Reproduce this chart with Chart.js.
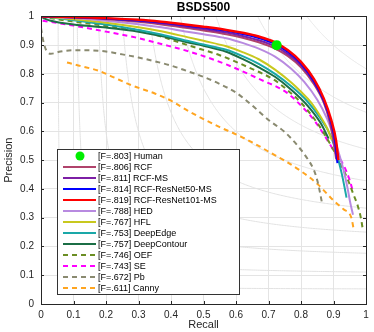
<!DOCTYPE html>
<html><head><meta charset="utf-8">
<script src="https://cdn.jsdelivr.net/npm/chart.js@4.4.1/dist/chart.umd.min.js"></script>
<style>html,body{margin:0;padding:0;background:#fff;}#wrap{width:374px;height:332px;}</style>
</head><body><div id="wrap"><canvas id="c" width="374" height="332"></canvas></div>
<script>
const FONT = "'Liberation Sans', Arial, Helvetica, sans-serif";
const methods = ['Human','RCF','RCF-MS','RCF-ResNet50-MS','RCF-ResNet101-MS','HED','HFL','DeepEdge','DeepContour','OEF','SE','Pb','Canny'];
const fScores = ['.803','.806','.811','.814','.819','.788','.767','.753','.757','.746','.743','.672','.611'];
const tickValues = [0,0.1,0.2,0.3,0.4,0.5,0.6,0.7,0.8,0.9,1];
const isoF = [0.1,0.2,0.3,0.4,0.5,0.6,0.7,0.8,0.9];

// [recall, precision]
const human = [[0.725,0.90]];
const rcf = [[0,1],[0.1,0.996],[0.2,0.99],[0.3,0.981],[0.37,0.972],[0.45,0.96],[0.5,0.951],[0.57,0.938],[0.62,0.926],[0.67,0.91],[0.72,0.888],[0.76,0.862],[0.8,0.823],[0.84,0.764],[0.87,0.7],[0.888,0.635],[0.9,0.565],[0.908,0.505]];
const rcfMS = [[0,1],[0.1,0.997],[0.2,0.992],[0.3,0.984],[0.37,0.976],[0.45,0.964],[0.5,0.956],[0.57,0.944],[0.62,0.932],[0.67,0.917],[0.72,0.896],[0.76,0.869],[0.8,0.83],[0.84,0.77],[0.87,0.705],[0.89,0.635],[0.903,0.565],[0.91,0.5]];
const rcfRes50 = [[0,1],[0.1,0.997],[0.2,0.993],[0.3,0.986],[0.37,0.979],[0.45,0.968],[0.5,0.961],[0.57,0.95],[0.62,0.939],[0.67,0.925],[0.72,0.904],[0.76,0.876],[0.8,0.836],[0.84,0.775],[0.87,0.708],[0.893,0.632],[0.906,0.56],[0.912,0.49]];
const rcfRes101 = [[0,1],[0.1,0.998],[0.2,0.994],[0.3,0.988],[0.37,0.981],[0.45,0.971],[0.5,0.964],[0.57,0.953],[0.62,0.943],[0.67,0.93],[0.72,0.91],[0.76,0.882],[0.8,0.842],[0.84,0.782],[0.87,0.715],[0.893,0.64],[0.908,0.567],[0.915,0.5]];
const hed = [[0,1],[0.1,0.994],[0.2,0.985],[0.3,0.973],[0.37,0.962],[0.45,0.947],[0.5,0.938],[0.57,0.924],[0.62,0.908],[0.67,0.888],[0.72,0.86],[0.77,0.818],[0.81,0.772],[0.85,0.71],[0.88,0.645],[0.9,0.585],[0.915,0.53],[0.93,0.47],[0.942,0.41],[0.952,0.35],[0.96,0.31]];
const hfl = [[0,1],[0.1,0.99],[0.2,0.978],[0.3,0.962],[0.37,0.948],[0.45,0.928],[0.5,0.915],[0.57,0.896],[0.62,0.876],[0.67,0.851],[0.72,0.815],[0.77,0.77],[0.8,0.738],[0.83,0.702],[0.86,0.652],[0.88,0.612],[0.895,0.57]];
const deepEdge = [[0,1],[0.1,0.987],[0.2,0.972],[0.3,0.953],[0.37,0.937],[0.45,0.915],[0.5,0.902],[0.57,0.884],[0.62,0.862],[0.67,0.835],[0.72,0.8],[0.77,0.757],[0.82,0.704],[0.86,0.645],[0.89,0.588],[0.91,0.522],[0.925,0.455],[0.935,0.4],[0.94,0.37]];
const deepContour = [[0.005,0.995],[0.03,0.985],[0.1,0.972],[0.2,0.961],[0.3,0.947],[0.37,0.932],[0.45,0.91],[0.5,0.898],[0.57,0.877],[0.62,0.852],[0.67,0.823],[0.72,0.79],[0.77,0.745],[0.82,0.69],[0.86,0.63],[0.885,0.575]];
const oef = [[0,1],[0.05,0.99],[0.1,0.982],[0.2,0.967],[0.3,0.952],[0.37,0.93],[0.46,0.897],[0.55,0.865],[0.64,0.822],[0.715,0.781],[0.756,0.746],[0.8,0.7],[0.84,0.645],[0.87,0.595],[0.9,0.535],[0.925,0.48],[0.945,0.43],[0.96,0.385],[0.975,0.34],[0.985,0.295],[0.99,0.26]];
const se = [[0.005,0.985],[0.1,0.968],[0.2,0.947],[0.29,0.927],[0.37,0.904],[0.47,0.873],[0.57,0.833],[0.67,0.783],[0.756,0.735],[0.8,0.69],[0.84,0.64],[0.87,0.59],[0.9,0.535],[0.93,0.485],[0.95,0.43],[0.96,0.39]];
const pb = [[0,0.96],[0.005,0.925],[0.015,0.885],[0.03,0.87],[0.06,0.878],[0.1,0.882],[0.15,0.882],[0.2,0.878],[0.25,0.868],[0.3,0.857],[0.35,0.844],[0.4,0.829],[0.45,0.81],[0.5,0.79],[0.55,0.765],[0.6,0.735],[0.65,0.69],[0.7,0.64],[0.75,0.598],[0.79,0.55],[0.82,0.505],[0.84,0.465],[0.85,0.43],[0.858,0.39],[0.864,0.355]];
const canny = [[0.08,0.84],[0.12,0.828],[0.18,0.81],[0.22,0.79],[0.28,0.76],[0.35,0.732],[0.4,0.707],[0.45,0.673],[0.5,0.643],[0.55,0.615],[0.6,0.59],[0.65,0.562],[0.7,0.53],[0.75,0.498],[0.8,0.462],[0.85,0.418],[0.9,0.36],[0.93,0.33],[0.955,0.3],[0.962,0.26]];

const series = [human,rcf,rcfMS,rcfRes50,rcfRes101,hed,hfl,deepEdge,deepContour,oef,se,pb,canny];
const colors = ['#00ee00','#b0436b','#7d1fa5','#0000ff','#ff0000','#b88ae0','#c8c81e','#1aa8a8','#1b6e45','#6b8e23','#ff00ff','#8a8a70','#ffa520'];
const dashed = [false,false,false,false,false,false,false,false,false,true,true,true,true];
// drawing order (lower = drawn later, on top)
const drawOrder = [0,4,3,2,1,5,6,7,8,9,10,11,12];

const datasets = series.map((s,i)=>{
  const d = {
    label: '[F=' + fScores[i] + '] ' + methods[i],
    data: s.map(p=>({x:p[0],y:p[1]})),
    borderColor: colors[i],
    backgroundColor: colors[i],
    borderWidth: i===4 ? 2.5 : 2,
    borderDash: dashed[i] ? [5,4] : [],
    pointRadius: 0,
    showLine: true,
    cubicInterpolationMode: 'monotone',
    fill: false,
    order: drawOrder[i]
  };
  if (i===0) { d.showLine=false; d.pointRadius=5; d.borderWidth=0; d.pointBorderWidth=0; }
  return d;
});

const fmt = v => (Math.abs(v-Math.round(v))<1e-9) ? String(Math.round(v)) : v.toFixed(1);

const deco = {
  id:'deco',
  beforeDatasetsDraw(chart){
    const {ctx, chartArea:a, scales:{x,y}} = chart;
    ctx.save();
    ctx.beginPath(); ctx.rect(a.left,a.top,a.right-a.left,a.bottom-a.top); ctx.clip();
    ctx.strokeStyle='#e2e2e2'; ctx.lineWidth=1;
    isoF.forEach(f=>{
      ctx.beginPath();
      const N=120;
      for(let k=0;k<=N;k++){
        const p = 1-(1-f)*k/N, r = f*p/(2*p-f);
        const px=x.getPixelForValue(r), py=y.getPixelForValue(p);
        k?ctx.lineTo(px,py):ctx.moveTo(px,py);
      }
      for(let k=1;k<=N;k++){
        const r = f+(1-f)*k/N, p = f*r/(2*r-f);
        ctx.lineTo(x.getPixelForValue(r), y.getPixelForValue(p));
      }
      ctx.stroke();
    });
    ctx.restore();
  },
  afterDraw(chart){
    const {ctx, chartArea:a, scales:{x,y}} = chart;
    ctx.save();
    ctx.strokeStyle='#262626'; ctx.lineWidth=1;
    ctx.strokeRect(Math.round(a.left)+0.5, Math.round(a.top)+0.5, Math.round(a.right-a.left), Math.round(a.bottom-a.top));
    ctx.beginPath();
    tickValues.forEach(v=>{
      const px=Math.round(x.getPixelForValue(v))+0.5;
      ctx.moveTo(px,a.bottom); ctx.lineTo(px,a.bottom-3);
      ctx.moveTo(px,a.top); ctx.lineTo(px,a.top+3);
      const py=Math.round(y.getPixelForValue(v))+0.5;
      ctx.moveTo(a.left,py); ctx.lineTo(a.left+3,py);
      ctx.moveTo(a.right,py); ctx.lineTo(a.right-3,py);
    });
    ctx.stroke();
    const L=57.5, T=149.5, W=182, H=145;
    ctx.fillStyle='#fff'; ctx.fillRect(L,T,W,H);
    ctx.strokeStyle='#333'; ctx.strokeRect(L,T,W,H);
    ctx.font = '9px ' + FONT; ctx.textBaseline='middle'; ctx.textAlign='left';
    chart.data.datasets.forEach((d,i)=>{
      const yy = 156 + 11*i;
      if (i===0) {
        ctx.fillStyle=d.backgroundColor; ctx.beginPath(); ctx.arc(80,yy,4.5,0,Math.PI*2); ctx.fill();
      } else {
        ctx.strokeStyle=d.borderColor; ctx.lineWidth=2; ctx.setLineDash(d.borderDash);
        ctx.beginPath(); ctx.moveTo(63,yy); ctx.lineTo(96,yy); ctx.stroke(); ctx.setLineDash([]);
      }
      ctx.fillStyle='#000'; ctx.fillText(d.label, 98, yy+0.5);
    });
    ctx.restore();
  }
};

new Chart(document.getElementById('c'), {
  type:'scatter',
  data:{datasets},
  options:{
    responsive:false, animation:false, devicePixelRatio:1,
    layout:{padding:{left:0,right:8,top:0,bottom:0}},
    plugins:{
      legend:{display:false}, tooltip:{enabled:false},
      title:{display:true, text:'BSDS500', fullSize:false, color:'#000', font:{family:FONT,size:12,weight:'bold'}, padding:{top:0,bottom:2}}
    },
    scales:{
      x:{type:'linear', min:0, max:1,
        afterBuildTicks(s){ s.ticks = tickValues.map(v=>({value:v})); },
        afterFit(s){ s.height=28; },
        grid:{color:'#e4e4e4', drawTicks:false},
        border:{display:true,color:'#262626'},
        ticks:{padding:5, color:'#262626', font:{family:FONT,size:10}, maxRotation:0, callback:v=>fmt(v)},
        title:{display:true, text:'Recall', color:'#262626', font:{family:FONT,size:11}, padding:{top:0,bottom:0}}
      },
      y:{type:'linear', min:0, max:1,
        afterBuildTicks(s){ s.ticks = tickValues.map(v=>({value:v})); },
        afterFit(s){ s.width=41; },
        grid:{color:'#e4e4e4', drawTicks:false},
        border:{display:true,color:'#262626'},
        ticks:{padding:7, color:'#262626', font:{family:FONT,size:10}, callback:v=>fmt(v)},
        title:{display:true, text:'Precision', color:'#262626', font:{family:FONT,size:11}, padding:{top:2,bottom:0}}
      }
    }
  },
  plugins:[deco]
});
</script></body></html>
